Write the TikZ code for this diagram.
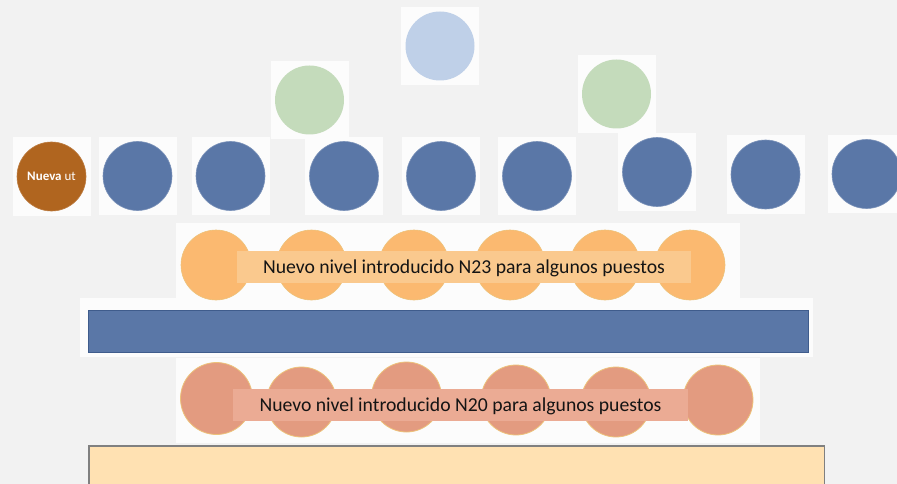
\documentclass[tikz,border=0pt]{standalone}
\usepackage{fontspec}
\setmainfont{Carlito}
\definecolor{bgc}{HTML}{F2F2F2}
\definecolor{topblue}{HTML}{BFD0E8}
\definecolor{softgreen}{HTML}{C4DBBB}
\definecolor{midblue}{HTML}{5A77A7}
\definecolor{midblueedge}{HTML}{3F5C8C}
\definecolor{brownc}{HTML}{B0651F}
\definecolor{orangec}{HTML}{FBB970}
\definecolor{orangebox}{HTML}{FAC98E}
\definecolor{salmonc}{HTML}{E39B80}
\definecolor{salmonbox}{HTML}{EBAB94}
\definecolor{goldedge}{HTML}{EDC27A}
\definecolor{peach}{HTML}{FFE1B2}
\definecolor{greyedge}{HTML}{808080}
\tikzset{
  dot/.style={circle, inner sep=0pt, minimum size=69pt},
  patch/.style={fill=white!80!bgc, draw=none},
  bluedot/.style={dot, fill=midblue, draw=midblue!80!white, line width=0.6pt},
  orangedot/.style={dot, fill=orangec, draw=goldedge, line width=0.6pt, minimum size=70pt},
  salmondot/.style={dot, fill=salmonc, draw=goldedge, line width=0.8pt, minimum size=70pt},
  banner/.style={inner sep=0pt, text=black!92, font=\fontsize{19.7}{22}\selectfont},
}
\begin{document}
\begin{tikzpicture}[x=1pt,y=-1pt]
\fill[bgc] (0,0) rectangle (897,484);
\useasboundingbox (0,0) rectangle (897,484);
% white patches behind shapes
\foreach \cx/\cy in {440/46, 309.5/100, 616.5/94, 51.5/176.5, 137.5/176, 230.5/176, 344/176, 441/176, 537/176, 657/172, 765.5/174.5, 866.5/174}
  \fill[patch] (\cx-39,\cy-39) rectangle (\cx+39,\cy+39);
\fill[patch] (176,223) rectangle (740,306);
\fill[patch] (80,298) rectangle (813,357);
\fill[patch] (176,358) rectangle (760,443);
% top circles
\node[dot, fill=topblue] (tb) at (440,46) {};
\node[dot, fill=softgreen] (gl) at (309.5,100) {};
\node[dot, fill=softgreen] (gr) at (616.5,94) {};
% blue row
\node[dot, fill=brownc, draw=brownc!85!white, line width=0.6pt] (nu) at (51.5,176.5)
  {\color{white}\fontsize{13}{15}\selectfont\textbf{Nueva} ut};
\node[bluedot] (b1) at (137.5,176) {};
\node[bluedot] (b2) at (230.5,176) {};
\node[bluedot] (b3) at (344,176) {};
\node[bluedot] (b4) at (441,176) {};
\node[bluedot] (b5) at (537,176) {};
\node[bluedot] (b6) at (657,172) {};
\node[bluedot] (b7) at (765.5,174.5) {};
\node[bluedot] (b8) at (866.5,174) {};
% orange row
\node[orangedot] (o1) at (216,265) {};
\node[orangedot] (o2) at (311.5,265) {};
\node[orangedot] (o3) at (414,265) {};
\node[orangedot] (o4) at (510,265) {};
\node[orangedot] (o5) at (605,265) {};
\node[orangedot] (o6) at (690,265) {};
\node[fill=orangebox, minimum width=454pt, minimum height=32pt, inner sep=0pt] (ob) at (464,267) {};
\node[banner] (ot) at (464,268) {Nuevo nivel introducido N23 para algunos puestos};
% blue bar
\node[fill=midblue, draw=midblueedge, line width=0.8pt, minimum width=720pt, minimum height=42pt, inner sep=0pt] (bar) at (448.5,331) {};
% salmon row
\node[salmondot, minimum size=72pt] (s1) at (216.5,398.5) {};
\node[salmondot, minimum width=66pt, minimum height=70pt] (s2) at (301.5,402) {};
\node[salmondot] (s3) at (406.5,397) {};
\node[salmondot, minimum width=67pt] (s4) at (516,400) {};
\node[salmondot] (s5) at (616,402) {};
\node[salmondot] (s6) at (718,400) {};
\node[fill=salmonbox, minimum width=455pt, minimum height=32pt, inner sep=0pt] (sb) at (460.5,405) {};
\node[banner] (st) at (460.5,406) {Nuevo nivel introducido N20 para algunos puestos};
% bottom rectangle
\draw[fill=peach, draw=greyedge, line width=1.2pt] (89,446) rectangle (824.5,490);
\end{tikzpicture}
\end{document}
